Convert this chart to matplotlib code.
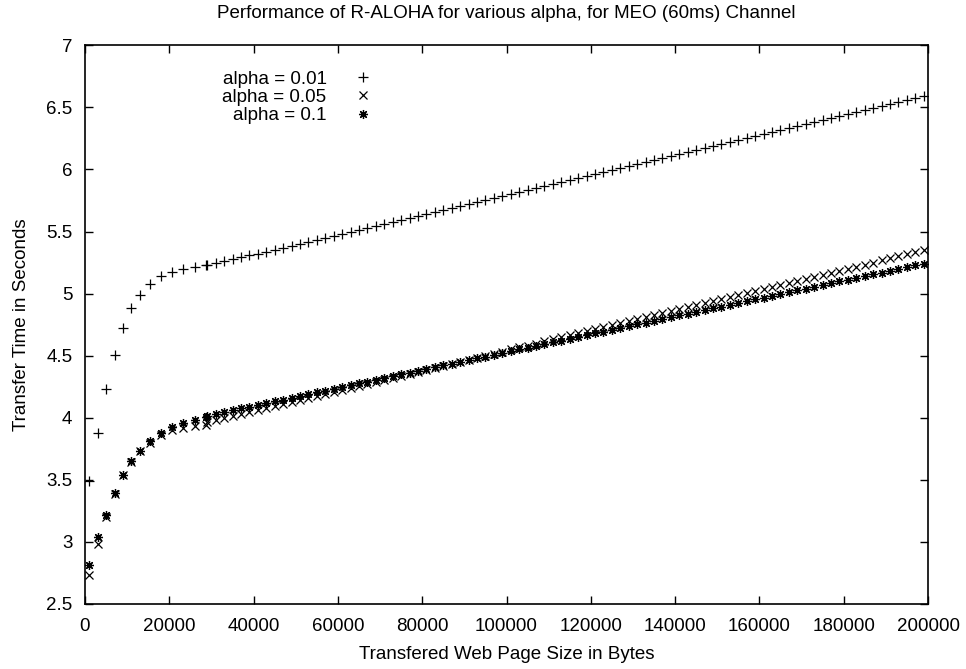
import matplotlib
matplotlib.use("Agg")
import matplotlib.pyplot as plt

plt.rcParams['font.family'] = ['Liberation Sans', 'DejaVu Sans']

# page sizes (bytes): a coarse run up to ~29 KB, then every 2 KB
page_size = [1000, 3000, 5000, 7000, 9000, 11000, 13000, 15400, 18000, 20600,
             23300, 26000, 28600,
             29000, 31000, 33000, 35000, 37000, 39000, 41000, 43000, 45000, 47000,
             49000, 51000, 53000, 55000, 57000, 59000, 61000, 63000, 65000, 67000,
             69000, 71000, 73000, 75000, 77000, 79000, 81000, 83000, 85000, 87000,
             89000, 91000, 93000, 95000, 97000, 99000, 101000, 103000, 105000, 107000,
             109000, 111000, 113000, 115000, 117000, 119000, 121000, 123000, 125000, 127000,
             129000, 131000, 133000, 135000, 137000, 139000, 141000, 143000, 145000, 147000,
             149000, 151000, 153000, 155000, 157000, 159000, 161000, 163000, 165000, 167000,
             169000, 171000, 173000, 175000, 177000, 179000, 181000, 183000, 185000, 187000,
             189000, 191000, 193000, 195000, 197000, 199000]

# transfer time (s), alpha = 0.01
time_a001 = [3.49, 3.88, 4.23, 4.505, 4.726, 4.887, 4.992, 5.08, 5.142, 5.174,
             5.198, 5.215, 5.228,
             5.232, 5.247, 5.263, 5.277, 5.294, 5.309, 5.322, 5.336, 5.352, 5.368,
             5.384, 5.400, 5.417, 5.433, 5.449, 5.465, 5.481, 5.497, 5.513, 5.529,
             5.545, 5.561, 5.577, 5.594, 5.610, 5.626, 5.642, 5.658, 5.674, 5.690,
             5.706, 5.722, 5.738, 5.755, 5.771, 5.787, 5.803, 5.819, 5.835, 5.851,
             5.867, 5.883, 5.899, 5.916, 5.932, 5.948, 5.964, 5.980, 5.996, 6.012,
             6.028, 6.044, 6.060, 6.077, 6.093, 6.109, 6.125, 6.141, 6.157, 6.173,
             6.189, 6.205, 6.221, 6.238, 6.254, 6.270, 6.286, 6.302, 6.318, 6.334,
             6.350, 6.366, 6.382, 6.399, 6.415, 6.431, 6.447, 6.463, 6.479, 6.495,
             6.511, 6.527, 6.543, 6.560, 6.576, 6.592]

# transfer time (s), alpha = 0.05
time_a005 = [2.734, 2.984, 3.20, 3.39, 3.535, 3.645, 3.73, 3.80, 3.86, 3.90,
             3.915, 3.93, 3.945,
             3.966, 3.979, 3.995, 4.012, 4.028, 4.044, 4.061, 4.077, 4.093, 4.109,
             4.126, 4.142, 4.158, 4.175, 4.191, 4.207, 4.224, 4.240, 4.256, 4.272,
             4.289, 4.305, 4.321, 4.338, 4.354, 4.370, 4.387, 4.403, 4.419, 4.435,
             4.452, 4.468, 4.484, 4.501, 4.517, 4.533, 4.550, 4.566, 4.582, 4.598,
             4.615, 4.631, 4.647, 4.664, 4.680, 4.696, 4.713, 4.729, 4.745, 4.761,
             4.778, 4.794, 4.810, 4.827, 4.843, 4.859, 4.876, 4.892, 4.908, 4.924,
             4.941, 4.957, 4.973, 4.990, 5.006, 5.022, 5.039, 5.055, 5.071, 5.087,
             5.104, 5.120, 5.136, 5.153, 5.169, 5.185, 5.202, 5.218, 5.234, 5.250,
             5.267, 5.283, 5.299, 5.316, 5.332, 5.348]

# transfer time (s), alpha = 0.1
time_a01 = [2.815, 3.037, 3.22, 3.392, 3.54, 3.65, 3.736, 3.811, 3.876, 3.924,
            3.956, 3.983, 4.005,
            4.013, 4.032, 4.046, 4.061, 4.075, 4.090, 4.104, 4.118, 4.133, 4.147,
            4.162, 4.176, 4.190, 4.205, 4.219, 4.234, 4.248, 4.262, 4.277, 4.291,
            4.306, 4.320, 4.334, 4.349, 4.363, 4.378, 4.392, 4.406, 4.421, 4.435,
            4.450, 4.464, 4.478, 4.493, 4.507, 4.522, 4.536, 4.550, 4.565, 4.579,
            4.594, 4.608, 4.622, 4.637, 4.651, 4.666, 4.680, 4.694, 4.709, 4.723,
            4.738, 4.752, 4.766, 4.781, 4.795, 4.810, 4.824, 4.838, 4.853, 4.867,
            4.882, 4.896, 4.910, 4.925, 4.939, 4.954, 4.968, 4.982, 4.997, 5.011,
            5.026, 5.040, 5.054, 5.069, 5.083, 5.098, 5.112, 5.126, 5.141, 5.155,
            5.170, 5.184, 5.198, 5.213, 5.227, 5.242]

x_ticks = [0, 20000, 40000, 60000, 80000, 100000, 120000, 140000, 160000, 180000, 200000]
y_ticks = [2.5, 3, 3.5, 4, 4.5, 5, 5.5, 6, 6.5, 7]
y_tick_labels = ['2.5', '3', '3.5', '4', '4.5', '5', '5.5', '6', '6.5', '7']

fig = plt.figure(figsize=(9.66, 6.69), dpi=100)
ax = fig.add_axes([85 / 966, 1 - 604 / 669, 843 / 966, 558.7 / 669])

# gnuplot-like point types: plus, cross, star
ax.plot(page_size, time_a001, linestyle='none', marker='+', markersize=6.5,
        markeredgewidth=0.9, color='black', label='alpha = 0.01')
ax.plot(page_size, time_a005, linestyle='none', marker='x', markersize=5.8,
        markeredgewidth=0.9, color='black', label='alpha = 0.05')
ax.plot(page_size, time_a01, linestyle='none', marker=(8, 2, 0), markersize=6.5,
        markeredgewidth=0.9, color='black', label='alpha = 0.1')

ax.set_xlim(0, 200000)
ax.set_ylim(2.5, 7)
ax.set_xticks(x_ticks)
ax.set_xticklabels([str(t) for t in x_ticks])
ax.set_yticks(y_ticks)
ax.set_yticklabels(y_tick_labels)
ax.tick_params(direction='in', length=6, width=1, top=True, right=True,
               labelsize=13.5, colors='black')
ax.tick_params(axis='x', pad=10)
ax.tick_params(axis='y', pad=9)
for s in ax.spines.values():
    s.set_linewidth(1.2)

ax.set_title('Performance of R-ALOHA for various alpha, for MEO (60ms) Channel',
             fontsize=13.5, pad=20)
ax.set_xlabel('Transfered Web Page Size in Bytes', fontsize=13.5, labelpad=8)
ax.set_ylabel('Transfer Time in Seconds', fontsize=13.5, labelpad=12)

ax.legend(loc='upper left', bbox_to_anchor=(0.163, 0.955), markerfirst=False,
          frameon=False, fontsize=13.5, labelspacing=0.06, handletextpad=0.95,
          handlelength=2.0, borderpad=0, borderaxespad=0, numpoints=1)

fig.savefig('out.png', dpi=100)
